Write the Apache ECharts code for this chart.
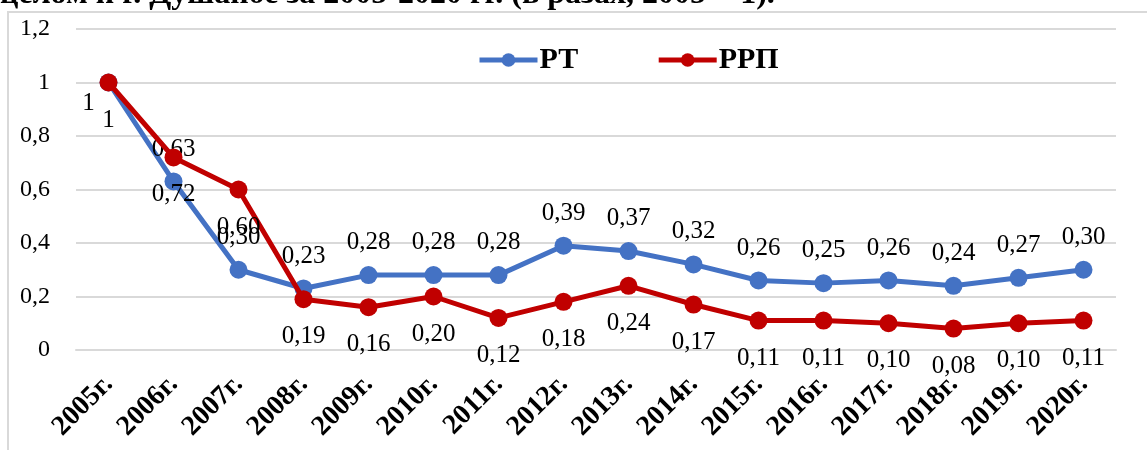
<!DOCTYPE html>
<html>
<head>
<meta charset="utf-8">
<script src="https://cdn.jsdelivr.net/npm/echarts@6/dist/echarts.min.js"></script>
<style>
  html, body { margin: 0; padding: 0; background: #fff; }
  #main { width: 1147px; height: 450px; }
</style>
</head>
<body>
<div id="main"></div>
<script>
// данные (в разах, 2005 = 1)
const years = ["2005г.", "2006г.", "2007г.", "2008г.", "2009г.", "2010г.", "2011г.", "2012г.",
  "2013г.", "2014г.", "2015г.", "2016г.", "2017г.", "2018г.", "2019г.", "2020г."];
const rtValues = [1, 0.63, 0.30, 0.23, 0.28, 0.28, 0.28, 0.39, 0.37, 0.32, 0.26, 0.25, 0.26, 0.24, 0.27, 0.30];
const rrpValues = [1, 0.72, 0.60, 0.19, 0.16, 0.20, 0.12, 0.18, 0.24, 0.17, 0.11, 0.11, 0.10, 0.08, 0.10, 0.11];
const captionText = "целом и г. Душанбе за 2005-2020 гг. (в разах, 2005 = 1).";

const serif = "'Liberation Serif', 'DejaVu Serif', serif";
const fmt = (v) => (v === 1 ? "1" : v.toFixed(2).replace(".", ","));

const chartDom = document.getElementById("main");
const myChart = echarts.init(chartDom);

// у первой точки РТ подпись сдвинута влево-вниз
const rtData = rtValues.map((v, i) =>
  i === 0 ? { value: v, label: { position: "inside", offset: [-20, 21] } } : v
);

const option = {
  animation: false,
  textStyle: { fontFamily: serif },
  graphic: [
    {
      type: "rect",
      shape: { x: 8, y: 12, width: 1160, height: 460 },
      style: { fill: null, stroke: "#d9d9d9", lineWidth: 2 },
      silent: true,
    },
    {
      type: "text",
      left: 0,
      top: -21,
      style: {
        text: captionText,
        font: "bold 32px " + serif,
        fill: "#000",
      },
      silent: true,
    },
  ],
  legend: {
    top: 40,
    left: 472,
    itemWidth: 58,
    itemHeight: 17,
    itemGap: 78,
    lineStyle: { width: 5 },
    textStyle: { fontSize: 30, fontWeight: "bold", color: "#000", fontFamily: serif, padding: [0, 0, 0, -3] },
    data: ["РТ", "РРП"],
  },
  grid: { left: 76, right: 31, top: 29, bottom: 100 },
  xAxis: {
    type: "category",
    data: years,
    axisLine: { lineStyle: { color: "#d9d9d9", width: 2 } },
    axisTick: { show: false },
    axisLabel: {
      rotate: 45,
      margin: 30,
      fontSize: 28,
      fontWeight: "bold",
      color: "#000",
      fontFamily: serif,
    },
  },
  yAxis: {
    type: "value",
    min: 0,
    max: 1.2,
    interval: 0.2,
    axisLine: { show: false },
    axisTick: { show: false },
    splitLine: { lineStyle: { color: "#d9d9d9", width: 2 } },
    axisLabel: {
      margin: 26,
      fontSize: 24,
      color: "#000",
      fontFamily: serif,
      formatter: (v) => String(+v.toFixed(1)).replace(".", ","),
    },
  },
  series: [
    {
      name: "РТ",
      type: "line",
      data: rtData,
      symbol: "circle",
      symbolSize: 18,
      lineStyle: { width: 5, color: "#4472c4" },
      itemStyle: { color: "#4472c4" },
      label: {
        show: true,
        position: "top",
        distance: 11,
        fontSize: 25,
        color: "#000",
        fontFamily: serif,
        formatter: (p) => fmt(p.value),
      },
      z: 2,
    },
    {
      name: "РРП",
      type: "line",
      data: rrpValues,
      symbol: "circle",
      symbolSize: 18,
      lineStyle: { width: 5, color: "#c00000" },
      itemStyle: { color: "#c00000" },
      label: {
        show: true,
        position: "bottom",
        distance: 16,
        fontSize: 25,
        color: "#000",
        fontFamily: serif,
        formatter: (p) => fmt(p.value),
      },
      z: 3,
    },
  ],
};

option && myChart.setOption(option);
</script>
</body>
</html>
